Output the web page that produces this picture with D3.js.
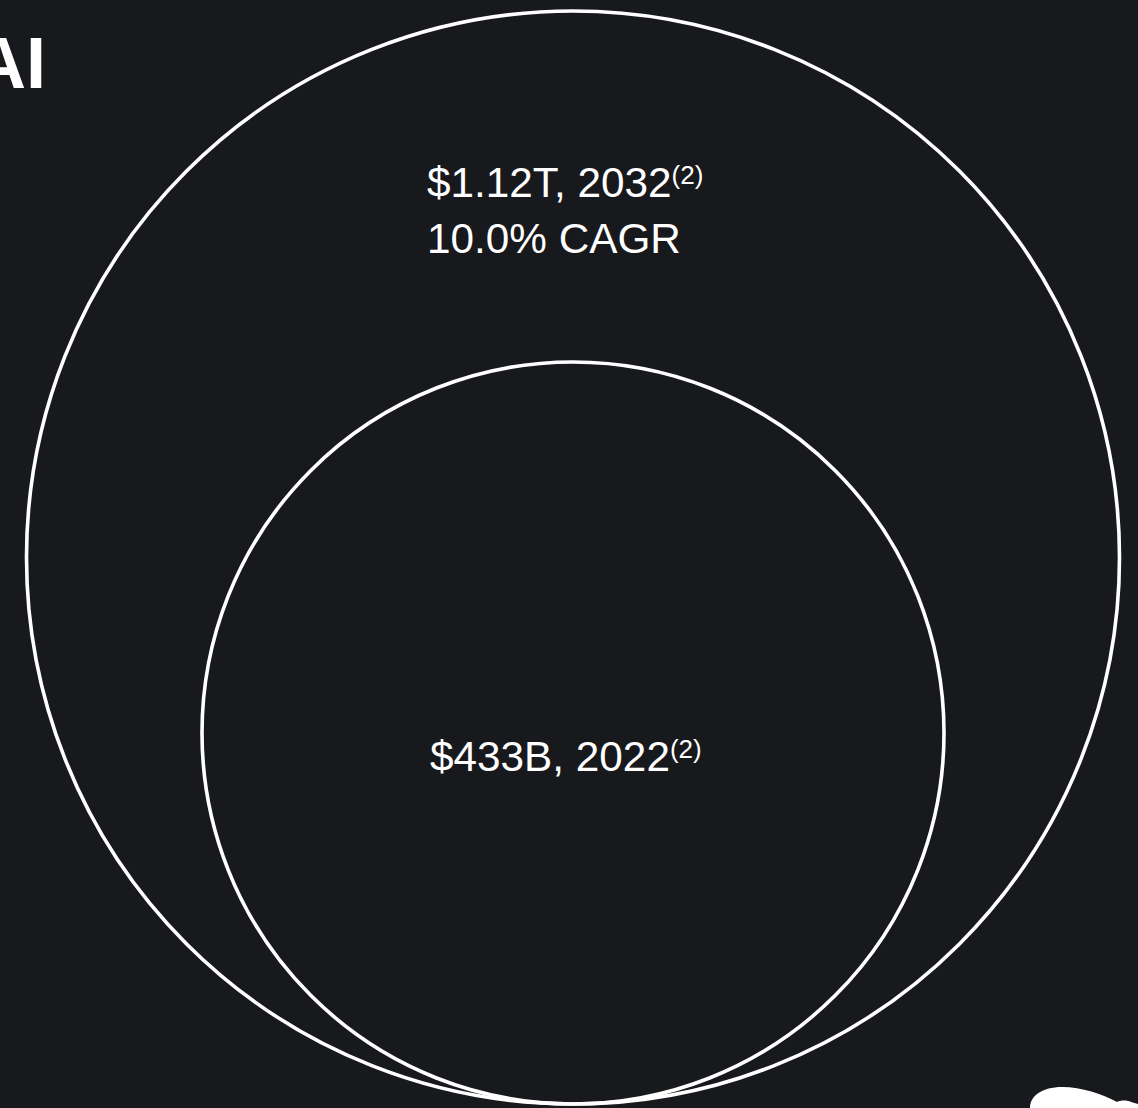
<!DOCTYPE html>
<html>
<head>
<meta charset="utf-8">
<script src="https://cdn.jsdelivr.net/npm/d3@7"></script>
<style>
  html, body { margin: 0; padding: 0; background: #18191c; overflow: hidden; }
  svg { display: block; }
  text { font-family: "Liberation Sans", Arial, Helvetica, sans-serif; fill: #ffffff; }
</style>
</head>
<body>
<script>
// Market size, in billions of US dollars
const years = [2022, 2032];
const valuesB = [433, 1120];
const valueLabels = ["$433B", "$1.12T"];
const footnotes = ["(2)", "(2)"];
const growthLabel = "10.0% CAGR";
const heading = "AI";

const W = 1138, H = 1108;
const svg = d3.select("body").append("svg")
  .attr("width", W).attr("height", H);

svg.append("rect").attr("width", W).attr("height", H).attr("fill", "#18191c");

// Circles share a common bottom edge; radius grows with market size
const baseY = 1104;
const cx = 573;
const rScale = d3.scaleLinear().domain([433, 1120]).range([371, 546.5]);

const data = years.map((y, i) => ({
  year: y, value: valuesB[i], label: valueLabels[i], note: footnotes[i]
}));

// Draw largest first so the smaller circle sits on top
const ordered = data.slice().sort((a, b) => b.value - a.value);
svg.selectAll("circle.market")
  .data(ordered)
  .join("circle")
  .attr("class", "market")
  .attr("cx", cx)
  .attr("cy", d => baseY - rScale(d.value))
  .attr("r", d => rScale(d.value))
  .attr("fill", "none")
  .attr("stroke", "#ffffff")
  .attr("stroke-width", 3.6);

const mainSize = 42.3, noteSize = 26, noteShift = -13;

// Label for the larger (future) circle, two lines, left aligned
const big = ordered[0];
const bigLabel = svg.append("text")
  .attr("x", 427).attr("y", 197)
  .attr("font-size", mainSize);
bigLabel.append("tspan").text(`${big.label}, ${big.year}`);
bigLabel.append("tspan").attr("dy", noteShift).attr("font-size", noteSize).text(big.note);
svg.append("text")
  .attr("x", 427).attr("y", 253)
  .attr("font-size", mainSize)
  .text(growthLabel);

// Label for the smaller (current) circle
const small = ordered[1];
const smallLabel = svg.append("text")
  .attr("x", 430).attr("y", 771)
  .attr("font-size", mainSize);
smallLabel.append("tspan").text(`${small.label}, ${small.year}`);
smallLabel.append("tspan").attr("dy", noteShift).attr("font-size", noteSize).text(small.note);

// Section heading, partly running off the left edge
svg.append("text")
  .attr("x", 46).attr("y", 88)
  .attr("text-anchor", "end")
  .attr("font-size", 72)
  .attr("font-weight", "bold")
  .text(heading);

// Decorative white shape at the lower right corner
svg.append("path")
  .attr("d", "M1030,1108 C1030,1096 1042,1087 1062,1087 C1082,1087 1102,1094 1117,1102 C1120,1100 1128,1100 1131,1102 L1138,1104 L1138,1108 Z")
  .attr("fill", "#ffffff");
</script>
</body>
</html>
